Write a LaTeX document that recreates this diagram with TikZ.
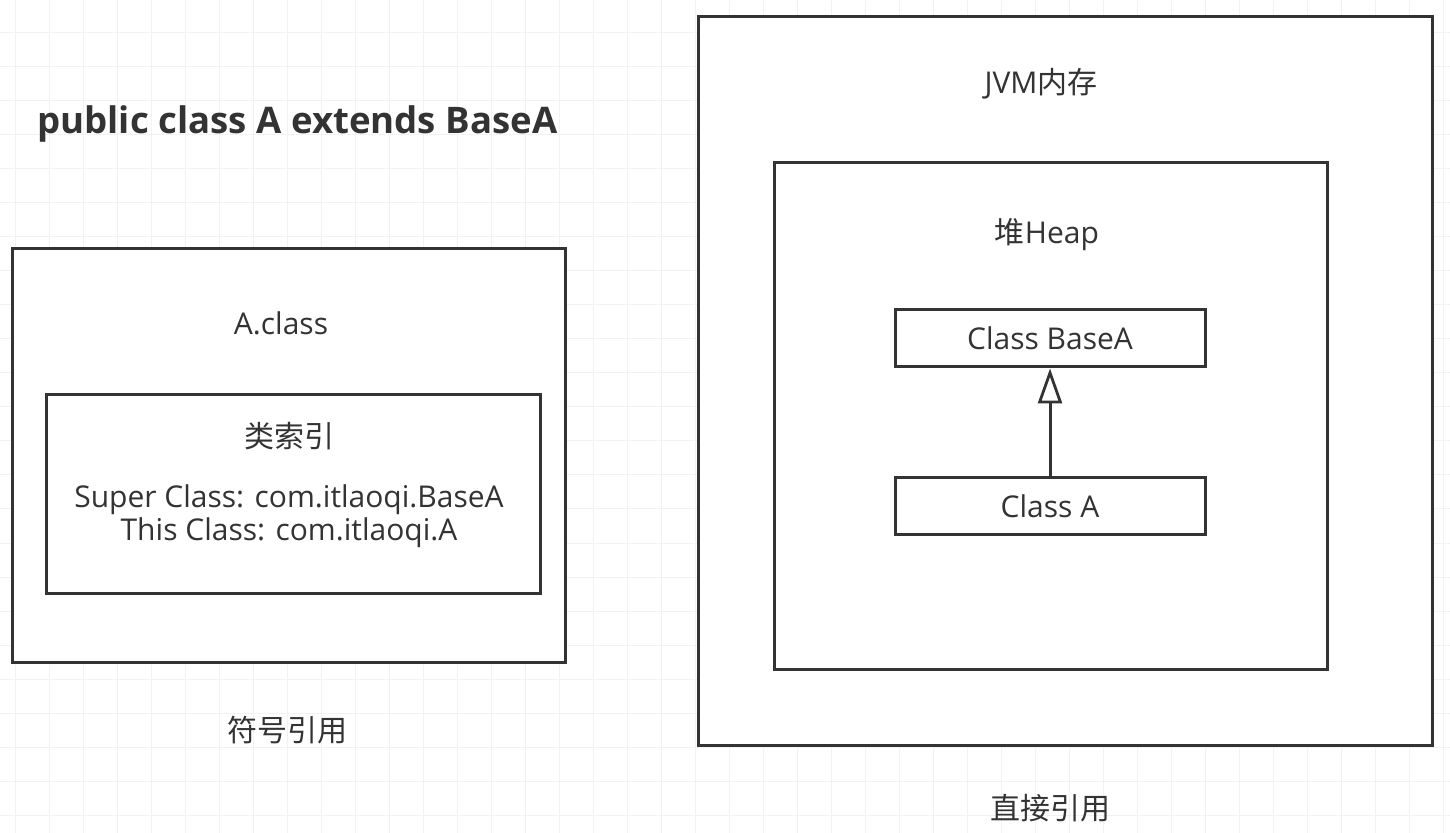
\documentclass[tikz,border=0pt]{standalone}
\usepackage{fontspec}
\setmainfont{Open Sans}
\newfontfamily\cjk{Noto Sans CJK SC}
\usepackage{tikz}
\usetikzlibrary{
  arrows.meta,
  positioning
}
\definecolor{inkgray}{RGB}{51,51,51}
\definecolor{gridgray}{RGB}{242,242,242}
\tikzset{
  framebox/.style={draw=inkgray, line width=1.5pt, fill=white,
    inner sep=0pt},
  classbox/.style={draw=inkgray, line width=1.5pt, fill=white,
    minimum width=155pt, minimum height=28.5pt, inner sep=0pt,
    font=\fontsize{15}{18}\selectfont, text=inkgray},
  lbl/.style={font=\fontsize{15}{18}\selectfont, text=inkgray,
    align=center, inner sep=0pt},
  inh/.style={-{Triangle[open, length=17.5pt, width=12pt, line width=1.4pt]},
    line width=1.5pt, draw=inkgray},
}

\begin{document}
\begin{tikzpicture}[x=0.5pt, y=-0.5pt]
  \useasboundingbox (0,0) rectangle (1450,833);

  % Background grid
  \foreach \gx in {15,49,...,1450}
    \draw[gridgray, line width=0.5pt] (\gx,0) -- (\gx,833);
  \foreach \gy in {33,67,...,833}
    \draw[gridgray, line width=0.5pt] (0,\gy) -- (1450,\gy);

  % Title
  \node[anchor=west, inner sep=0pt, text=inkgray,
        font=\fontsize{18.3}{22}\selectfont\bfseries] (title)
    at (37,124) {public class A extends BaseA};

  % Class file (left)
  \node[framebox, minimum width=276.5pt, minimum height=206.5pt]
    (classfile) at (288.5,455.5) {};
  \node[lbl] (classname) at (281,323) {A.class};
  \node[framebox, minimum width=247pt, minimum height=99pt]
    (index) at (293,494) {};
  \node[lbl] (indexname) at (289,436) {\cjk 类索引};
  \node[lbl, below=17pt of indexname,
        font=\fontsize{15}{16.5}\selectfont] (indexbody)
    {Super Class: com.itlaoqi.BaseA\\This Class: com.itlaoqi.A};
  \node[lbl] (symref) at (287,730) {\cjk 符号引用};

  % JVM memory (right)
  \node[framebox, minimum width=367pt, minimum height=364pt]
    (jvm) at (1065,381) {};
  \node[lbl] (jvmname) at (1041,84) {JVM{\cjk 内存}};
  \node[framebox, minimum width=276.5pt, minimum height=253pt]
    (heap) at (1050.5,416) {};
  \node[lbl] (heapname) at (1047,235) {{\cjk 堆}Heap};
  \node[classbox] (baseA) at (1050,338.5) {Class BaseA};
  \node[classbox] (clsA) at (1050,506.5) {Class A};
  \node[lbl] (directref) at (1050,808) {\cjk 直接引用};

  % Inheritance
  \draw[inh] (clsA) -- (baseA);
\end{tikzpicture}
\end{document}
